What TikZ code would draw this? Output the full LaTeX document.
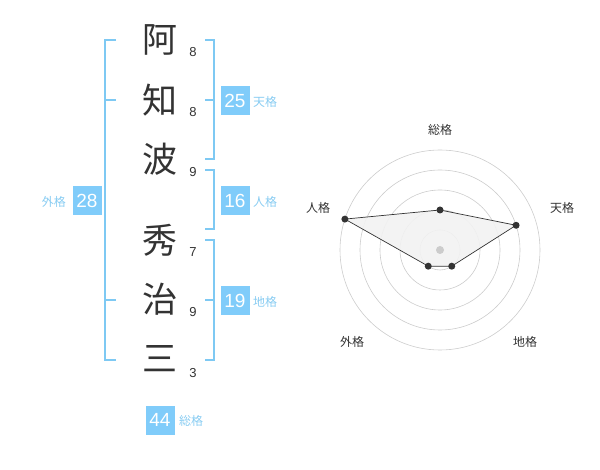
\documentclass[tikz,border=0pt]{standalone}
\usepackage{fontspec}
\usetikzlibrary{calc}
\setmainfont{Liberation Sans}
\newfontfamily\cjk{Noto Sans CJK JP}
\definecolor{bl}{HTML}{7EC9F3}
\definecolor{bx}{HTML}{80CCFA}
\definecolor{lb}{HTML}{88CCF2}
\definecolor{dk}{HTML}{333333}
\begin{document}
\begin{tikzpicture}[x=1pt,y=-1pt,
  kanji/.style={font=\cjk\fontsize{35}{35}\selectfont,text=dk,inner sep=0},
  strk/.style={font=\fontsize{13}{13}\selectfont,text=dk,inner sep=0},
  brk/.style={draw=bl,line width=1.8pt},
  numbox/.style={fill=bx,text=white,minimum width=29pt,minimum height=29pt,inner sep=0,font=\fontsize{19}{19}\selectfont},
  kaku/.style={text=lb,font=\cjk\fontsize{12}{12}\selectfont,inner sep=0},
  ring/.style={draw=black!20,line width=0.6pt},
  axlab/.style={text=dk,font=\cjk\fontsize{12}{12}\selectfont,inner sep=0},
  dot/.style={circle,fill=dk,inner sep=0,minimum size=7pt}]
\useasboundingbox (0,0) rectangle (600,470);
% characters
\node[kanji] (c1) at (160,40) {阿};
\node[kanji] (c2) at (160,100) {知};
\node[kanji] (c3) at (160,159) {波};
\node[kanji] (c4) at (160,240) {秀};
\node[kanji] (c5) at (160,299) {治};
\node[kanji] (c6) at (160,359) {三};
\node[strk] (s1) at (193,52) {8};
\node[strk] (s2) at (193,112) {8};
\node[strk] (s3) at (193,172) {9};
\node[strk] (s4) at (193,252) {7};
\node[strk] (s5) at (193,312) {9};
\node[strk] (s6) at (193,373) {3};
% left bracket (gaikaku)
\draw[brk] (116,40) -- (105,40) -- (105,360) -- (116,360);
\draw[brk] (105,100) -- (116,100);
\draw[brk] (105,300) -- (116,300);
% right brackets
\draw[brk] (205,40) -- (214,40) -- (214,159) -- (205,159);
\draw[brk] (205,100) -- (214,100);
\draw[brk] (205,170) -- (214,170) -- (214,229) -- (205,229);
\draw[brk] (205,240) -- (214,240) -- (214,360) -- (205,360);
\draw[brk] (205,300) -- (214,300);
% number boxes
\node[numbox] (ten) at (235,101) {25};
\node[kaku,anchor=west] (tenl) at (253,102) {天格};
\node[numbox] (jin) at (235,201) {16};
\node[kaku,anchor=west] (jinl) at (253,202) {人格};
\node[numbox] (chi) at (235,301) {19};
\node[kaku,anchor=west] (chil) at (253,302) {地格};
\node[numbox] (gai) at (87,201) {28};
\node[kaku,anchor=east] (gail) at (66,202) {外格};
\node[numbox] (sou) at (160,420) {44};
\node[kaku,anchor=west] (soul) at (179,421) {総格};
% radar
\coordinate (O) at (440,250);
\foreach \r in {20,40,60,80,100} \draw[ring] (O) circle (\r pt);
\coordinate (p1) at ($(O)+(-90:40)$);
\coordinate (p2) at ($(O)+(-18:80)$);
\coordinate (p3) at ($(O)+(54:20)$);
\coordinate (p4) at ($(O)+(126:20)$);
\coordinate (p5) at ($(O)+(-162:100)$);
\draw[dk,line width=0.7pt,fill=black!5,fill opacity=0.9] (p1) -- (p2) -- (p3) -- (p4) -- (p5) -- cycle;
\foreach \p in {p1,p2,p3,p4,p5} \node[dot] at (\p) {};
\node[circle,fill=black!20,inner sep=0,minimum size=8pt] (ctr) at (O) {};
\node[axlab] (a1) at (440,130) {総格};
\node[axlab] (a2) at (562,208) {天格};
\node[axlab] (a3) at (525,342) {地格};
\node[axlab] (a4) at (352,342) {外格};
\node[axlab] (a5) at (318,208) {人格};
\end{tikzpicture}
\end{document}
